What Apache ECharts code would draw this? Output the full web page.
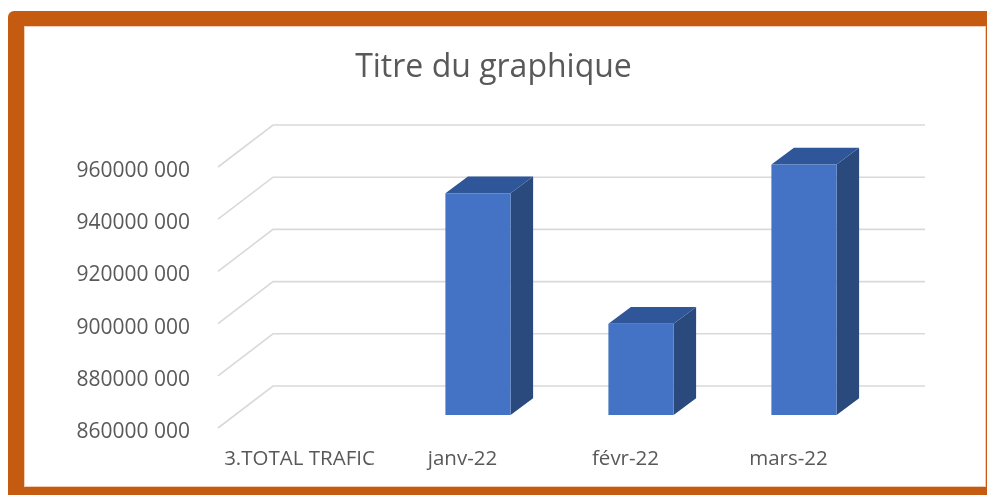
<!DOCTYPE html>
<html>
<head>
<meta charset="utf-8">
<script src="https://cdn.jsdelivr.net/npm/echarts@6/dist/echarts.min.js"></script>
<style>
  html, body { margin: 0; padding: 0; width: 987px; height: 495px; overflow: hidden; background: #ffffff; }
  #frame { position: absolute; left: 8px; top: 11px; width: 1000px; height: 500px; background: #C55A11; border-radius: 6px; }
  #inner { position: absolute; left: 25px; top: 27px; width: 960px; height: 459px; background: #ffffff; box-shadow: 0 0 0 1px #F1CDB3; }
  #chart { position: absolute; left: 0; top: 0; width: 987px; height: 495px; }
</style>
</head>
<body>
<div id="frame"></div>
<div id="inner"></div>
<div id="chart"></div>
<script>
// ---- data ----
const categories = ['3.TOTAL TRAFIC', 'janv-22', 'févr-22', 'mars-22'];
const trafic = [null, 945000000, 895000000, 956000000];
const yTicks = [860000000, 880000000, 900000000, 920000000, 940000000, 960000000];
const chartTitle = 'Titre du graphique';

// ---- 3D look (oblique projection) ----
const WALL_DX = 55, WALL_DY = -42;     // floor front edge -> back wall
const FACE_DX = 15.5, FACE_DY = -13;   // floor front edge -> bar front face
const BAR_DX = 22.5, BAR_DY = -16.7;   // bar depth
const BAR_RATIO = 0.4;

const chart = echarts.init(document.getElementById('chart'), null, { renderer: 'canvas' });

const wallData = yTicks.map(v => [0, v]);
const barData = [];
trafic.forEach((v, i) => { if (v !== null && v !== undefined) barData.push([i, v]); });

function renderWall(params, api) {
  const cs = params.coordSys;
  const y = api.coord([0, api.value(1)])[1];
  const x0 = cs.x;
  const pts = [[x0, y], [x0 + WALL_DX, y + WALL_DY], [x0 + cs.width + WALL_DX, y + WALL_DY]];
  return {
    type: 'polyline',
    shape: { points: pts },
    style: { stroke: '#D9D9D9', lineWidth: 1.6, fill: null }
  };
}

function renderBar(params, api) {
  const idx = api.value(0);
  const val = api.value(1);
  const base = api.coord([idx, yTicks[0]]);
  const top = api.coord([idx, val]);
  const band = api.size([1, 0])[0];
  const w = band * BAR_RATIO;
  const x0 = base[0] + FACE_DX - w / 2;
  const x1 = x0 + w;
  const yt = top[1] + FACE_DY;
  const yb = base[1] + FACE_DY;
  return {
    type: 'group',
    children: [
      {
        type: 'polygon',
        shape: { points: [[x1, yt], [x1 + BAR_DX, yt + BAR_DY], [x1 + BAR_DX, yb + BAR_DY], [x1, yb]] },
        style: { fill: '#2A4A7E' }
      },
      {
        type: 'polygon',
        shape: { points: [[x0, yt], [x1, yt], [x1 + BAR_DX, yt + BAR_DY], [x0 + BAR_DX, yt + BAR_DY]] },
        style: { fill: '#30569A' }
      },
      {
        type: 'rect',
        shape: { x: x0, y: yt, width: w, height: yb - yt },
        style: { fill: '#4472C4' }
      }
    ]
  };
}

const option = {
  backgroundColor: 'transparent',
  animation: false,
  title: {
    text: chartTitle,
    left: 'center',
    top: 52,
    padding: [0, 0, 0, 20],
    textStyle: { fontFamily: 'Open Sans', fontSize: 32, fontWeight: 'normal', color: '#595959' }
  },
  grid: { left: 218, right: 117, top: 167, bottom: 67 },
  xAxis: {
    type: 'category',
    data: categories,
    axisLine: { show: false },
    axisTick: { show: false },
    axisLabel: { interval: 0, margin: 21, color: '#595959', fontFamily: 'Open Sans', fontSize: 20.5 },
    splitLine: { show: false }
  },
  yAxis: {
    type: 'value',
    min: yTicks[0],
    max: yTicks[yTicks.length - 1],
    interval: yTicks[1] - yTicks[0],
    axisLine: { show: false },
    axisTick: { show: false },
    splitLine: { show: false },
    axisLabel: {
      margin: 28,
      color: '#595959',
      fontFamily: 'Open Sans',
      fontSize: 21,
      verticalAlign: 'top',
      lineHeight: 8,
      formatter: v => Math.round(v / 1000) + ' 000'
    }
  },
  series: [
    { type: 'custom', name: 'walls', z: 1, silent: true, renderItem: renderWall, data: wallData, encode: { x: 0, y: 1 } },
    { type: 'custom', name: 'trafic', z: 2, renderItem: renderBar, data: barData, encode: { x: 0, y: 1 } }
  ]
};
chart.setOption(option);
</script>
</body>
</html>
